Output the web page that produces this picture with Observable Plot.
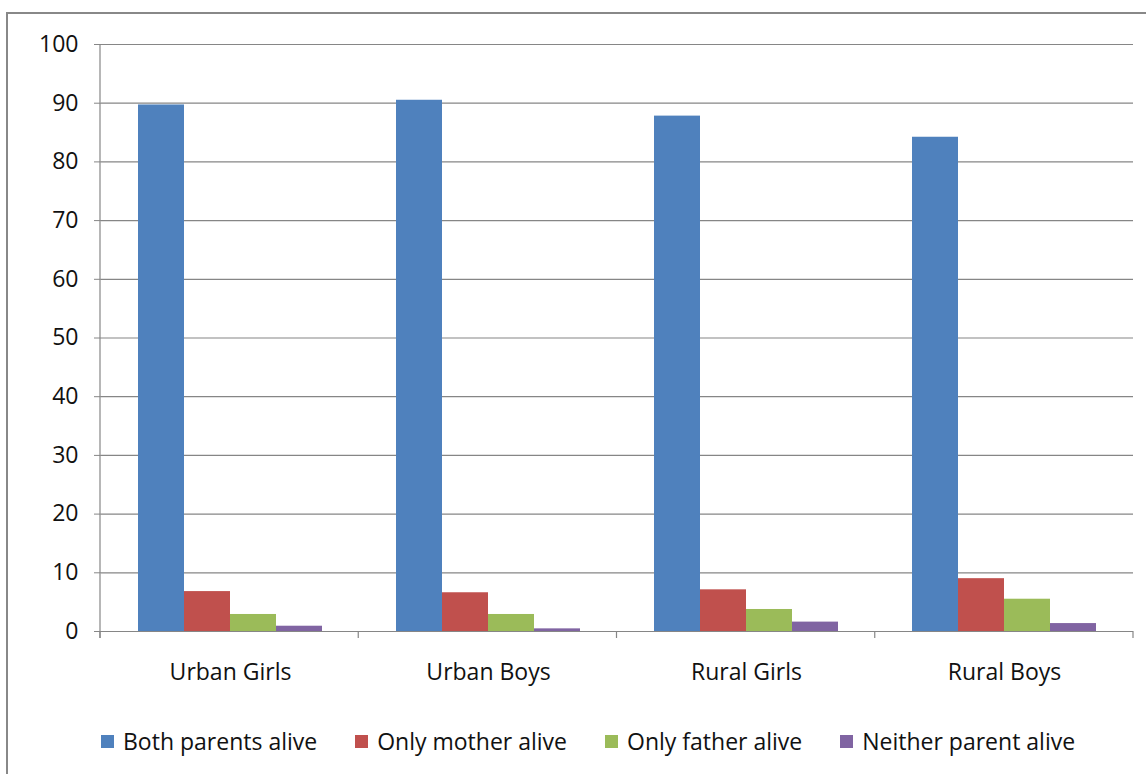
<!DOCTYPE html>
<html>
<head>
<meta charset="utf-8">
<script src="https://cdn.jsdelivr.net/npm/d3@7"></script>
<script src="https://cdn.jsdelivr.net/npm/@observablehq/plot@0.6"></script>
<style>
  body { margin: 0; background: #fff; font-family: "Open Sans", Lato, sans-serif; }
  #wrap { position: relative; width: 1146px; height: 774px; overflow: hidden; background: #fff; }
  #border { position: absolute; left: 6px; top: 12px; width: 1300px; height: 900px;
            border-left: 2px solid #888; border-top: 2px solid #888; }
  #chart { position: absolute; left: 0; top: 0; }
  #legend { position: absolute; left: 101px; top: 725px; display: flex; align-items: center;
            font-size: 23px; color: #111; white-space: nowrap; }
  .item { display: flex; align-items: center; margin-right: 38px; }
  .sw { width: 13px; height: 13px; margin-right: 9px; display: inline-block; }
</style>
</head>
<body>
<div id="wrap">
  <div id="border"></div>
  <div id="chart"></div>
  <div id="legend"></div>
</div>
<script>
const categories = ["Urban Girls", "Urban Boys", "Rural Girls", "Rural Boys"];
const series = ["Both parents alive", "Only mother alive", "Only father alive", "Neither parent alive"];
const colors = ["#4f81bd", "#c0504d", "#9bbb59", "#8064a2"];
const bothParents = [89.7, 90.5, 87.8, 84.2];
const onlyMother = [6.8, 6.6, 7.1, 9.0];
const onlyFather = [2.9, 2.9, 3.75, 5.5];
const neitherParent = [0.9, 0.45, 1.6, 1.35];
const yTicks = [0, 10, 20, 30, 40, 50, 60, 70, 80, 90, 100];

const seriesValues = [bothParents, onlyMother, onlyFather, neitherParent];
const rows = [];
categories.forEach((c, i) => {
  series.forEach((s, j) => rows.push({category: c, series: s, value: seriesValues[j][i]}));
});

const axisColor = "#868686";

const plot = Plot.plot({
  width: 1146,
  height: 700,
  marginLeft: 100,
  marginRight: 13,
  marginTop: 44,
  marginBottom: 69,
  style: { fontFamily: "'Open Sans', Lato, sans-serif", fontSize: "23px", color: "#111", background: "transparent" },
  fx: { domain: categories, padding: 0, label: null },
  x: { domain: series, paddingInner: 0, paddingOuter: 0.745, axis: null },
  y: { domain: [0, 100], axis: null, label: null },
  color: { domain: series, range: colors },
  marks: [
    Plot.gridY(yTicks, { stroke: axisColor, strokeOpacity: 1, strokeWidth: 1.2 }),
    Plot.barY(rows, { fx: "category", x: "series", y: "value", fill: "series" }),
    Plot.ruleY([0], { stroke: axisColor, strokeWidth: 1.2 }),
    Plot.axisY(yTicks, { anchor: "left", label: null, tickSize: 7, tickPadding: 16, stroke: axisColor, tickFormat: d => String(d), fill: "#111" }),
    Plot.axisFx({ anchor: "bottom", tickSize: 0, tickPadding: 32, label: null, fill: "#111" })
  ]
});

document.getElementById("chart").appendChild(plot);

// y-axis line and category boundary ticks, positioned through Plot's scales
const fxDesc = plot.scale("fx");
const yDesc = plot.scale("y");
const fxBand = d3.scaleBand().domain(fxDesc.domain).range(fxDesc.range).paddingInner(fxDesc.paddingInner || 0).paddingOuter(fxDesc.paddingOuter || 0);
const yLin = d3.scaleLinear().domain(yDesc.domain).range(yDesc.range);
const svg = d3.select(plot.tagName.toLowerCase() === "svg" ? plot : plot.querySelector("svg"));
const g = svg.append("g").attr("stroke", axisColor).attr("stroke-width", 1.2);
const x0 = fxBand(categories[0]);
g.append("line").attr("x1", x0).attr("x2", x0).attr("y1", yLin(100)).attr("y2", yLin(0) + 7);
const bounds = categories.map(c => fxBand(c)).concat([fxBand(categories[categories.length - 1]) + fxBand.bandwidth()]);
bounds.forEach(b => {
  g.append("line").attr("x1", b).attr("x2", b).attr("y1", yLin(0)).attr("y2", yLin(0) + 7);
});

// legend
const legend = document.getElementById("legend");
series.forEach((s, i) => {
  const item = document.createElement("div");
  item.className = "item";
  const sw = document.createElement("span");
  sw.className = "sw";
  sw.style.background = colors[i];
  const t = document.createElement("span");
  t.textContent = s;
  item.appendChild(sw);
  item.appendChild(t);
  legend.appendChild(item);
});
</script>
</body>
</html>
